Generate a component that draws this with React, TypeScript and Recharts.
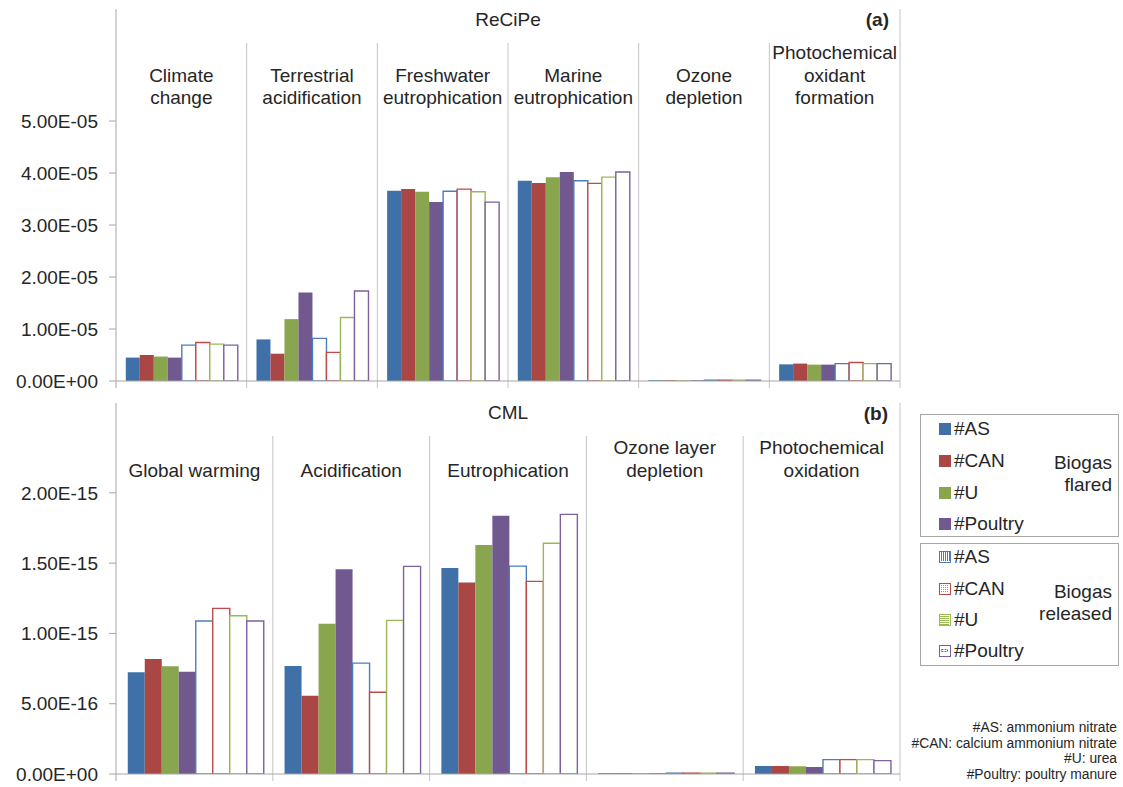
import { BarChart, Bar, XAxis, YAxis, ReferenceLine } from 'recharts'

// Two stacked panels: (a) ReCiPe, (b) CML. Eight bars per impact category:
// biogas flared (filled) and biogas released (outlined), four fertiliser types each.

const recipeCategories = ['Climate\nchange', 'Terrestrial\nacidification', 'Freshwater\neutrophication', 'Marine\neutrophication', 'Ozone\ndepletion', 'Photochemical\noxidant\nformation']
const recipeFlaredAS = [0.45e-5, 0.80e-5, 3.66e-5, 3.85e-5, 1.5e-7, 0.32e-5]
const recipeFlaredCAN = [0.50e-5, 0.525e-5, 3.69e-5, 3.81e-5, 1.5e-7, 0.335e-5]
const recipeFlaredU = [0.47e-5, 1.19e-5, 3.64e-5, 3.92e-5, 1.5e-7, 0.315e-5]
const recipeFlaredPoultry = [0.45e-5, 1.70e-5, 3.44e-5, 4.02e-5, 1.5e-7, 0.315e-5]
const recipeReleasedAS = [0.69e-5, 0.82e-5, 3.65e-5, 3.85e-5, 1.5e-7, 0.335e-5]
const recipeReleasedCAN = [0.74e-5, 0.55e-5, 3.69e-5, 3.80e-5, 1.5e-7, 0.355e-5]
const recipeReleasedU = [0.71e-5, 1.22e-5, 3.64e-5, 3.92e-5, 1.5e-7, 0.335e-5]
const recipeReleasedPoultry = [0.69e-5, 1.73e-5, 3.44e-5, 4.02e-5, 1.5e-7, 0.335e-5]
const recipeTicks = [0, 1e-5, 2e-5, 3e-5, 4e-5, 5e-5]

const cmlCategories = ['Global warming', 'Acidification', 'Eutrophication', 'Ozone layer\ndepletion', 'Photochemical\noxidation']
const cmlFlaredAS = [0.723e-15, 0.768e-15, 1.465e-15, 6e-18, 0.057e-15]
const cmlFlaredCAN = [0.818e-15, 0.557e-15, 1.363e-15, 6e-18, 0.057e-15]
const cmlFlaredU = [0.766e-15, 1.069e-15, 1.629e-15, 6e-18, 0.055e-15]
const cmlFlaredPoultry = [0.728e-15, 1.456e-15, 1.837e-15, 6e-18, 0.05e-15]
const cmlReleasedAS = [1.088e-15, 0.789e-15, 1.479e-15, 6e-18, 0.102e-15]
const cmlReleasedCAN = [1.178e-15, 0.581e-15, 1.37e-15, 6e-18, 0.102e-15]
const cmlReleasedU = [1.126e-15, 1.093e-15, 1.641e-15, 6e-18, 0.102e-15]
const cmlReleasedPoultry = [1.088e-15, 1.477e-15, 1.847e-15, 6e-18, 0.095e-15]
const cmlTicks = [0, 0.5e-15, 1e-15, 1.5e-15, 2e-15]

const fertilisers = ['#AS', '#CAN', '#U', '#Poultry']
const fillColors = ['#3F71A8', '#AA4644', '#89A54E', '#71588F']
const lineColors = ['#4A7EBB', '#BE4B48', '#98B954', '#7D60A0']
const footnotes = ['#AS: ammonium nitrate', '#CAN: calcium ammonium nitrate', '#U: urea', '#Poultry: poultry manure']

const keys = ['fAS', 'fCAN', 'fU', 'fPoultry', 'rAS', 'rCAN', 'rU', 'rPoultry']

function toRows(cats: string[], series: number[][]) {
  return cats.map((name, i) => {
    const row: Record<string, string | number> = { name }
    keys.forEach((k, j) => { row[k] = series[j][i] })
    return row
  })
}

const recipeData = toRows(recipeCategories, [recipeFlaredAS, recipeFlaredCAN, recipeFlaredU, recipeFlaredPoultry, recipeReleasedAS, recipeReleasedCAN, recipeReleasedU, recipeReleasedPoultry])
const cmlData = toRows(cmlCategories, [cmlFlaredAS, cmlFlaredCAN, cmlFlaredU, cmlFlaredPoultry, cmlReleasedAS, cmlReleasedCAN, cmlReleasedU, cmlReleasedPoultry])

const TEXT = '#262626'
const AXIS = '#A6A6A6'
const GRID = '#C4C4C4'
const FONT = 19

function sci(v: number) {
  const [m, e] = v.toExponential(2).split('e')
  return `${m}E${e[0]}${e.slice(1).padStart(2, '0')}`
}

function CatTick({ x, payload, lastY }: { x: number; payload: { value: string }; lastY: number }) {
  const lines = String(payload.value).split('\n')
  return (
    <text textAnchor="middle" fontSize={FONT} fill={TEXT}>
      {lines.map((l, i) => (
        <tspan key={i} x={x} y={lastY - (lines.length - 1 - i) * 22.5} dy="0.35em">{l}</tspan>
      ))}
    </text>
  )
}

function Panel({ data, cats, ticks, yMax, divTop, tickDown, labelY, height, top, pad }: {
  data: Record<string, string | number>[]
  cats: string[]
  ticks: number[]
  yMax: number
  divTop: number
  tickDown: number
  labelY: number
  height: number
  top: number
  pad: number
}) {
  return (
    <div style={{ position: 'absolute', left: 0, top }}>
      <BarChart width={1123} height={height} data={data} margin={{ top: pad, right: 223, left: 16, bottom: 0 }}
        barCategoryGap="7.5%" barGap={0}>
        <XAxis dataKey="name" height={13} interval={0} axisLine={{ stroke: AXIS }} tickLine={false}
          tick={(p: any) => <CatTick {...p} lastY={labelY} />} />
        <YAxis type="number" width={100} domain={[0, yMax]} ticks={ticks} allowDataOverflow
          tickFormatter={sci} tickSize={7} tickMargin={11}
          axisLine={{ stroke: AXIS }} tickLine={{ stroke: AXIS }} tick={{ fontSize: FONT, fill: TEXT }} />
        {cats.map((c, i) => (
          <ReferenceLine key={c} segment={[{ x: c, y: i === 0 ? 0 : divTop }, { x: c, y: -tickDown }]}
            position="start" ifOverflow="visible" stroke={i === 0 ? AXIS : GRID} />
        ))}
        <ReferenceLine segment={[{ x: cats[cats.length - 1], y: yMax }, { x: cats[cats.length - 1], y: -tickDown }]}
          position="end" ifOverflow="visible" stroke={GRID} />
        {keys.map((k, j) => (
          j < 4
            ? <Bar key={k} dataKey={k} fill={fillColors[j]} isAnimationActive={false} />
            : <Bar key={k} dataKey={k} fill="#FFFFFF" stroke={lineColors[j - 4]} strokeWidth={1.4} isAnimationActive={false} />
        ))}
      </BarChart>
    </div>
  )
}

// legend swatch: solid for flared, hatched outline for released
function Swatch({ i, released }: { i: number; released: boolean }) {
  const c = lineColors[i]
  const marks: JSX.Element[] = []
  if (released) {
    if (i === 0) for (let k = 2; k < 11; k += 2) marks.push(<line key={k} x1={k + 0.5} y1={1} x2={k + 0.5} y2={10} stroke={c} />)
    if (i === 1) for (let a = 2; a < 10; a += 2) for (let b = 2; b < 10; b += 2) marks.push(<rect key={`${a}-${b}`} x={a} y={b} width={1} height={1} fill={c} opacity={0.7} />)
    if (i === 2) for (let k = 2; k < 11; k += 2) marks.push(<line key={k} x1={1} y1={k + 0.5} x2={10} y2={k + 0.5} stroke={c} />)
    if (i === 3) marks.push(<rect key="d" x={2.5} y={4.5} width={6} height={2} fill="none" stroke={c} strokeDasharray="2 1" />)
  }
  return (
    <svg width={12} height={12} style={{ display: 'block' }}>
      {released
        ? <rect x={0.5} y={0.5} width={11} height={11} fill="#fff" stroke={c} />
        : <rect x={0} y={0} width={12} height={12} fill={fillColors[i]} />}
      {marks}
    </svg>
  )
}

function LegendBox({ top, released, label, rows }: { top: number; released: boolean; label: string[]; rows: number[] }) {
  return (
    <div style={{ position: 'absolute', left: 920, top, width: 197, height: 121, border: `1px solid ${AXIS}` }}>
      {fertilisers.map((f, i) => (
        <div key={f} style={{ position: 'absolute', left: 18, top: rows[i] - 11, height: 22, display: 'flex', alignItems: 'center', gap: 3, fontSize: FONT, color: TEXT }}>
          <Swatch i={i} released={released} />
          <span>{f}</span>
        </div>
      ))}
      <div style={{ position: 'absolute', right: 6, top: 37, textAlign: 'right', fontSize: FONT, lineHeight: '22px', color: TEXT }}>
        {label.map((l) => <div key={l}>{l}</div>)}
      </div>
    </div>
  )
}

export default function App() {
  return (
    <div style={{ position: 'absolute', left: 0, top: 0, width: 1123, height: 787, background: '#fff', fontFamily: '"Liberation Sans", Arial, sans-serif', color: TEXT }}>
      <Panel data={recipeData} cats={recipeCategories} ticks={recipeTicks} yMax={7.154e-5} divTop={6.5e-5}
        tickDown={0.135e-5} labelY={97.7} height={394} top={0} pad={9} />
      <Panel data={cmlData} cats={cmlCategories} ticks={cmlTicks} yMax={2.639e-15} divTop={2.404e-15}
        tickDown={0.05e-15} labelY={75} height={392} top={395} pad={8} />

      <div style={{ position: 'absolute', left: 408, top: 9, width: 200, textAlign: 'center', fontSize: FONT, lineHeight: '22px' }}>ReCiPe</div>
      <div style={{ position: 'absolute', right: 1123 - 889, top: 9, fontSize: FONT, lineHeight: '22px', fontWeight: 'bold' }}>(a)</div>
      <div style={{ position: 'absolute', left: 408, top: 402, width: 200, textAlign: 'center', fontSize: FONT, lineHeight: '22px' }}>CML</div>
      <div style={{ position: 'absolute', right: 1123 - 888, top: 403, fontSize: FONT, lineHeight: '22px', fontWeight: 'bold' }}>(b)</div>

      <LegendBox top={414} released={false} label={['Biogas', 'flared']} rows={[13.7, 46, 77.7, 109.3]} />
      <LegendBox top={543} released={true} label={['Biogas', 'released']} rows={[12.7, 44.7, 76, 107]} />

      <div style={{ position: 'absolute', right: 6, top: 720, textAlign: 'right', fontSize: 13.8, lineHeight: '15.7px' }}>
        {footnotes.map((t) => <div key={t}>{t}</div>)}
      </div>
    </div>
  )
}
